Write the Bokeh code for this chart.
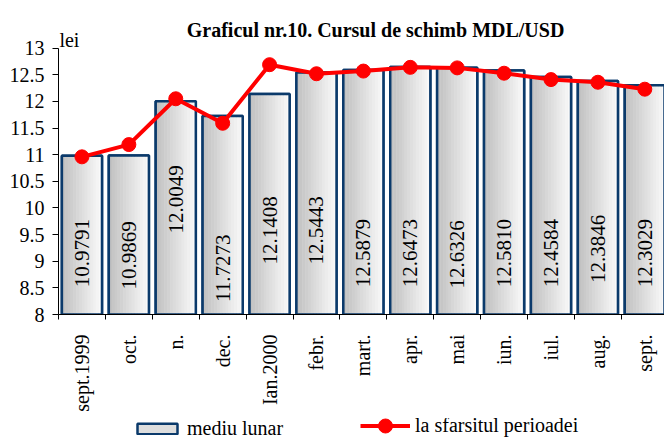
import numpy as np
from math import pi
from bokeh.plotting import figure
from bokeh.layouts import column
from bokeh.models import Range1d, FixedTicker, Legend, LegendItem, LinearAxis, Label
from bokeh.core.properties import value
from bokeh.embed import file_html
from bokeh.resources import INLINE

# ---- data ----
categories = ["sept.1999", "oct.", "n.", "dec.", "Ian.2000", "febr.", "mart.",
              "apr.", "mai", "iun.", "iul.", "aug.", "sept."]
mediu_lunar = [10.9791, 10.9869, 12.0049, 11.7273, 12.1408, 12.5443, 12.5879,
               12.6473, 12.6326, 12.5810, 12.4584, 12.3846, 12.3029]
sfarsit_perioada = [10.96, 11.19, 12.05, 11.59, 12.69, 12.52, 12.57,
                    12.64, 12.63, 12.53, 12.41, 12.36, 12.23]
bar_labels = ["10.9791", "10.9869", "12.0049", "11.7273", "12.1408", "12.5443", "12.5879",
              "12.6473", "12.6326", "12.5810", "12.4584", "12.3846", "12.3029"]
y_ticks = [8, 8.5, 9, 9.5, 10, 10.5, 11, 11.5, 12, 12.5, 13]
y_tick_labels = ["8", "8.5", "9", "9.5", "10", "10.5", "11", "11.5", "12", "12.5", "13"]
title_text = "Graficul nr.10. Cursul de schimb MDL/USD"
unit_text = "lei"
legend_labels = ["mediu lunar", "la sfarsitul perioadei"]

# ---- layout (label vertical positions, in value units) ----
label_y = [9.15, 9.11, 10.16, 8.87, 9.58, 9.58, 9.15, 9.15, 9.13, 9.15, 9.15, 9.23, 9.15]

SERIF = "Liberation Serif"
RED = "#ff0000"
OUTLINE = "#0b3a6b"
W = 664


def bare(fig):
    fig.outline_line_color = None
    fig.xgrid.visible = False
    fig.ygrid.visible = False
    fig.background_fill_color = "white"
    fig.border_fill_color = "white"


# ---- main chart (frame reaches the top so that the title sits inside it) ----
n = len(categories)
xc = np.arange(n) + 0.5
bounds = list(np.arange(n + 1).astype(float))
bar_w = 0.855

p = figure(width=W, height=418, output_backend="svg", toolbar_location=None,
           x_range=Range1d(0, 12.92), y_range=Range1d(8, 13.895),
           min_border_left=58, min_border_right=0, min_border_top=0, min_border_bottom=104,
           x_axis_type=None, y_axis_type=None)
bare(p)

xa = LinearAxis(ticker=FixedTicker(ticks=list(xc), minor_ticks=bounds))
xa.major_label_overrides = {float(x): c for x, c in zip(xc, categories)}
xa.major_label_orientation = pi / 2
xa.major_tick_out = 0
xa.major_tick_in = 0
xa.minor_tick_out = 5
xa.minor_tick_in = 0
xa.minor_tick_line_color = "black"
xa.axis_line_color = "black"
xa.major_label_standoff = 15
xa.major_label_text_font = SERIF
xa.major_label_text_font_size = "20px"
xa.major_label_text_color = "black"
p.add_layout(xa, "below")

ya = LinearAxis(ticker=FixedTicker(ticks=y_ticks, minor_ticks=[]), bounds=(8, 13))
ya.major_label_overrides = {float(t): s for t, s in zip(y_ticks, y_tick_labels)}
ya.major_tick_out = 6
ya.major_tick_in = 0
ya.major_tick_line_color = "black"
ya.axis_line_color = "black"
ya.major_label_standoff = 8
ya.major_label_text_font = SERIF
ya.major_label_text_font_size = "20px"
ya.major_label_text_color = "black"
p.add_layout(ya, "left")

p.vbar(x=xc, width=bar_w, top=mediu_lunar, bottom=8,
       fill_color="#e0e0e0", line_color=OUTLINE, line_width=2.5)
ns = 14
inner = bar_w - 0.02
sw = inner / ns
c0 = np.array([0xc2, 0xc2, 0xc2])
c1 = np.array([0xf9, 0xf9, 0xf9])
for k in range(ns):
    t = k / (ns - 1)
    col = "#%02x%02x%02x" % tuple((c0 + (c1 - c0) * t).astype(int))
    off = -inner / 2 + (k + 0.5) * sw
    p.vbar(x=xc + off, width=sw * 1.06, top=np.array(mediu_lunar) - 0.01, bottom=8,
           fill_color=col, line_color=None)
p.vbar(x=xc, width=bar_w, top=mediu_lunar, bottom=8,
       fill_alpha=0, line_color=OUTLINE, line_width=2.5)

p.text(x=xc, y=label_y, text=bar_labels, angle=pi / 2, text_align="center",
       text_baseline="middle", text_font=value("'Liberation Serif'"), text_font_size="21px",
       text_color="black")

p.line(x=xc, y=sfarsit_perioada, line_color=RED, line_width=4)
p.scatter(x=xc, y=sfarsit_perioada, size=14, fill_color=RED, line_color=RED)

p.add_layout(Label(x=6.76, y=13.341, text=title_text, text_align="center",
                   text_baseline="alphabetic", text_font=SERIF, text_font_style="bold",
                   text_font_size="20px", text_color="black"))
p.add_layout(Label(x=0.02, y=13.158, text=unit_text, text_align="left",
                   text_baseline="alphabetic", text_font=SERIF,
                   text_font_size="20px", text_color="black"))

# ---- legend strip (renderers only supply the legend swatches) ----
leg = figure(width=W, height=22, output_backend="svg", toolbar_location=None,
             x_range=Range1d(0, 1), y_range=Range1d(0, 1), min_border=0,
             x_axis_type=None, y_axis_type=None)
bare(leg)
r_bar = leg.vbar(x=[np.nan], top=[np.nan], width=0.5, bottom=np.nan,
                 fill_color="#dedede", line_color=OUTLINE, line_width=2.5)
r_line = leg.line(x=[np.nan], y=[np.nan], line_color=RED, line_width=4)
r_pts = leg.scatter(x=[np.nan], y=[np.nan], size=14, fill_color=RED, line_color=RED)

common = dict(orientation="horizontal", glyph_width=50, label_standoff=5,
              padding=0, margin=0, border_line_alpha=0, background_fill_alpha=0,
              label_text_font=SERIF, label_text_font_size="20px",
              label_text_color="black")
leg1 = Legend(items=[LegendItem(label=legend_labels[0], renderers=[r_bar])],
              location=(74, 0), glyph_height=13, **common)
leg2 = Legend(items=[LegendItem(label=legend_labels[1], renderers=[r_line, r_pts])],
              location=(302, -2.5), glyph_height=35, **common)
leg.add_layout(leg1)
leg.add_layout(leg2)

layout = column(p, leg, spacing=0)
open("out.html", "w").write(file_html(layout, INLINE))
